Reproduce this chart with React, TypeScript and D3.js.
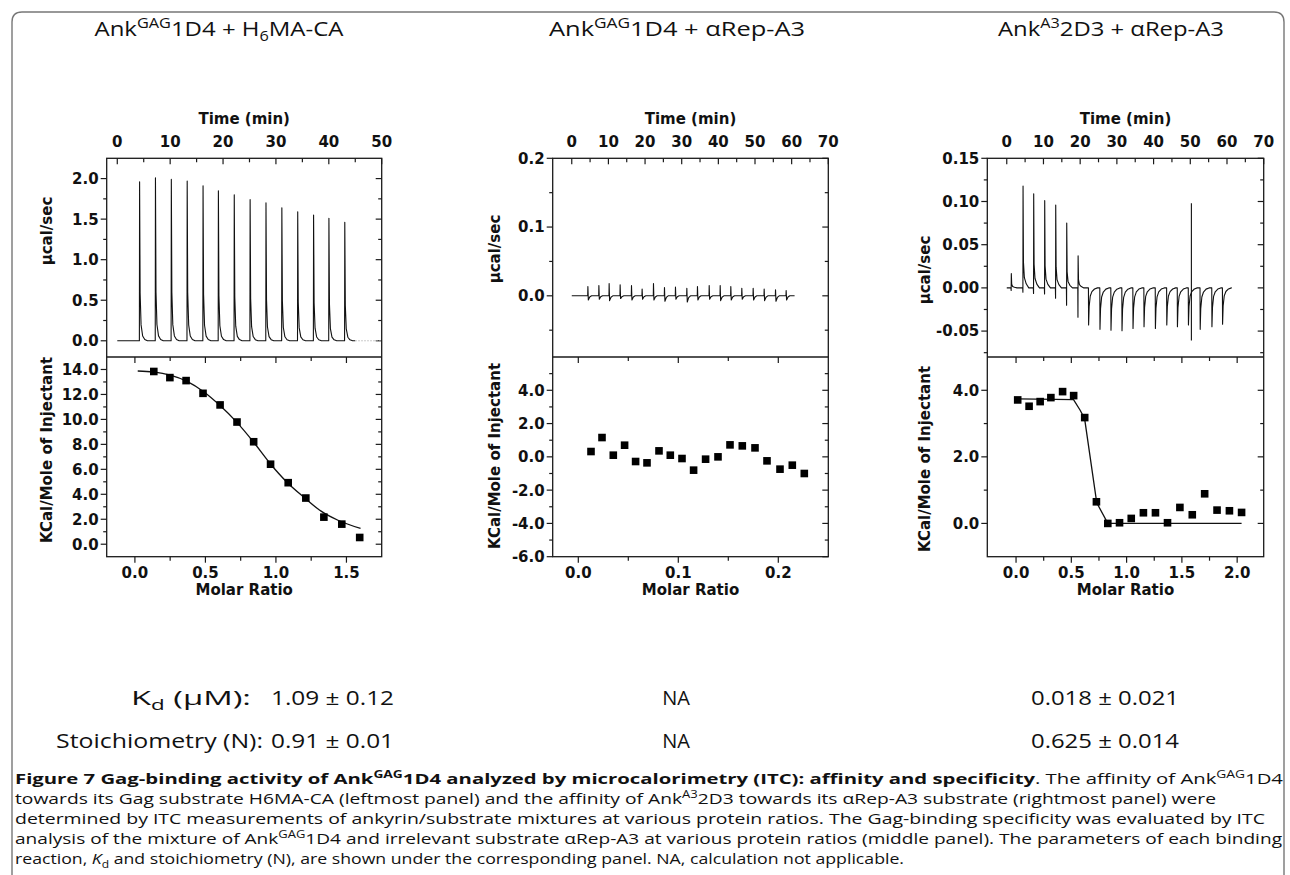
import React, { useEffect, useRef } from 'react'
import * as d3 from 'd3'

type Seg = { t: string; sup?: boolean; sub?: boolean; b?: boolean; i?: boolean }

// panel headings
const panelTitles: Seg[][] = [
    [{ t: 'Ank' }, { t: 'GAG', sup: true }, { t: '1D4 + H' }, { t: '6', sub: true }, { t: 'MA-CA' }],
    [{ t: 'Ank' }, { t: 'GAG', sup: true }, { t: '1D4 + αRep-A3' }],
    [{ t: 'Ank' }, { t: 'A3', sup: true }, { t: '2D3 + αRep-A3' }],
]

// ---- left panel: AnkGAG1D4 + H6MA-CA
const leftInjTime = [4.2, 7.2, 10.2, 13.2, 16.2, 19.1, 22.1, 25.1, 28.1, 31.1, 34.1, 37.1, 40.0, 43.0]
const leftPeak = [1.96, 2.01, 1.99, 1.97, 1.91, 1.85, 1.8, 1.74, 1.7, 1.64, 1.59, 1.55, 1.51, 1.46]
const leftRatio = [0.134, 0.248, 0.363, 0.483, 0.604, 0.724, 0.842, 0.962, 1.087, 1.212, 1.34, 1.467, 1.594]
const leftHeat = [13.84, 13.35, 13.11, 12.09, 11.16, 9.79, 8.21, 6.41, 4.93, 3.7, 2.17, 1.61, 0.54]
const leftFitRatio = [0.02, 0.13, 0.25, 0.37, 0.49, 0.6, 0.72, 0.84, 0.96, 1.08, 1.2, 1.32, 1.44, 1.6]
const leftFitHeat = [13.88, 13.8, 13.55, 13.05, 12.2, 11.15, 9.8, 8.2, 6.45, 4.95, 3.75, 2.65, 1.92, 1.26]

// ---- middle panel: AnkGAG1D4 + aRep-A3
const midInjTime = [4.4, 7.4, 10.2, 13.2, 16.3, 19.2, 22.3, 25.3, 28.3, 31.4, 34.3, 37.5, 40.5, 43.4, 46.4, 49.5, 52.5, 55.6, 58.5]
const midSpike = [0.0136, 0.015, 0.018, 0.016, 0.015, 0.0097, 0.018, 0.012, 0.0126, 0.011, 0.0136, 0.015, 0.015, 0.0136, 0.011, 0.011, 0.01, 0.0087, 0.0078]
const midDip = [-0.006, -0.005, -0.007, -0.004, -0.006, -0.005, -0.006, -0.008, -0.005, -0.009, -0.006, -0.005, -0.007, -0.006, -0.005, -0.006, -0.007, -0.008, -0.006]
const midRatio = [0.0127, 0.0237, 0.035, 0.0463, 0.0573, 0.0687, 0.0807, 0.092, 0.1037, 0.1153, 0.1273, 0.1397, 0.1517, 0.164, 0.1767, 0.1887, 0.2017, 0.214, 0.226]
const midHeat = [0.32, 1.16, 0.1, 0.7, -0.28, -0.36, 0.36, 0.1, -0.1, -0.8, -0.14, 0.0, 0.72, 0.66, 0.54, -0.24, -0.74, -0.5, -1.0]

// ---- right panel: AnkA32D3 + aRep-A3
const rightInjTime = [1.2, 4.4, 7.3, 10.3, 13.3, 16.3, 19.4, 22.3, 25.4, 28.4, 31.4, 34.4, 37.4, 40.5, 43.6, 46.5, 49.5, 52.7, 55.9, 58.8]
const rightPeak = [0.0165, 0.118, 0.109, 0.101, 0.096, 0.075, 0.037, -0.043, -0.048, -0.049, -0.0495, -0.047, -0.045, -0.047, -0.043, -0.045, -0.043, -0.048, -0.045, -0.042]
const rightDip = [-0.003, -0.005, -0.0065, -0.007, -0.012, -0.02, -0.034, 0, 0, 0, 0, 0, 0, 0, 0, 0, 0, 0, 0, 0]
const rightArtifact = { time: 50.3, up: 0.098, down: -0.061 }
const rightRatio = [0.015, 0.118, 0.218, 0.315, 0.421, 0.521, 0.621, 0.727, 0.83, 0.936, 1.042, 1.152, 1.261, 1.37, 1.482, 1.594, 1.706, 1.818, 1.93, 2.04]
const rightHeat = [3.71, 3.52, 3.66, 3.78, 3.96, 3.84, 3.18, 0.65, 0.0, 0.02, 0.15, 0.32, 0.32, 0.02, 0.48, 0.26, 0.89, 0.4, 0.38, 0.33]
const rightFitRatio = [0.015, 0.52, 0.58, 0.62, 0.73, 0.83, 2.04]
const rightFitHeat = [3.74, 3.72, 3.4, 3.15, 0.62, 0.0, 0.0]

// tick values
const leftTimeTicks = [0, 10, 20, 30, 40, 50]
const leftUpTicks = [0, 0.5, 1, 1.5, 2]
const leftLowTicks = [0, 2, 4, 6, 8, 10, 12, 14]
const leftRatioTicks = [0, 0.5, 1, 1.5]
const midTimeTicks = [0, 10, 20, 30, 40, 50, 60, 70]
const midUpTicks = [0, 0.1, 0.2]
const midLowTicks = [-6, -4, -2, 0, 2, 4]
const midRatioTicks = [0, 0.1, 0.2]
const rightTimeTicks = [0, 10, 20, 30, 40, 50, 60, 70]
const rightUpTicks = [-0.05, 0, 0.05, 0.1, 0.15]
const rightLowTicks = [0, 2, 4]
const rightRatioTicks = [0, 0.5, 1, 1.5, 2]

// fitted parameters under each panel
const kdLabel: Seg[] = [{ t: 'K' }, { t: 'd', sub: true }, { t: ' (μM):' }]
const nLabel: Seg[] = [{ t: 'Stoichiometry (N):' }]
const kdValues = ['1.09 ± 0.12', 'NA', '0.018 ± 0.021']
const nValues = ['0.91 ± 0.01', 'NA', '0.625 ± 0.014']

const captionLines: Seg[][] = [
    [{ t: 'Figure 7 Gag-binding activity of Ank', b: true }, { t: 'GAG', sup: true, b: true }, { t: '1D4 analyzed by microcalorimetry (ITC): affinity and specificity', b: true }, { t: '. The affinity of Ank' }, { t: 'GAG', sup: true }, { t: '1D4' }],
    [{ t: 'towards its Gag substrate H6MA-CA (leftmost panel) and the affinity of Ank' }, { t: 'A3', sup: true }, { t: '2D3 towards its αRep-A3 substrate (rightmost panel) were' }],
    [{ t: 'determined by ITC measurements of ankyrin/substrate mixtures at various protein ratios. The Gag-binding specificity was evaluated by ITC' }],
    [{ t: 'analysis of the mixture of Ank' }, { t: 'GAG', sup: true }, { t: '1D4 and irrelevant substrate αRep-A3 at various protein ratios (middle panel). The parameters of each binding' }],
    [{ t: 'reaction, ' }, { t: 'K', i: true }, { t: 'd', sub: true }, { t: ' and stoichiometry (N), are shown under the corresponding panel. NA, calculation not applicable.' }],
]

const W = 1290, H = 875
const INK = '#1a1a1a'
const FONT_AX = '"DejaVu Sans", sans-serif'
const FONT_TXT = '"Open Sans", sans-serif'
const yTop = 158.3, yMid = 357, yBot = 556.7

const fmt = (s: string) => (v: number) => d3.format(s)(v).replace('−', '-')

const rich = (g: any, segs: Seg[], x: number, y: number, size: number, anchor: string, len?: number) => {
    const text = g.append('text').attr('x', x).attr('y', y).attr('font-size', size)
        .attr('font-family', FONT_TXT).attr('text-anchor', anchor).attr('fill', '#111')
    if (len) text.attr('textLength', len).attr('lengthAdjust', 'spacingAndGlyphs')
    let shift = 0
    segs.forEach(s => {
        const target = s.sup ? -size * 0.38 : s.sub ? size * 0.25 : 0
        const ts = text.append('tspan').attr('dy', target - shift).text(s.t)
        shift = target
        if (s.sup || s.sub) ts.attr('font-size', size * 0.68)
        if (s.b) ts.attr('font-weight', 'bold')
        if (s.i) ts.attr('font-style', 'italic')
    })
}

// trace helpers: build a thermogram from the injection list
const leftTrace = () => {
    const pts: [number, number][] = [[0, 0]]
    leftInjTime.forEach((t, i) => {
        const h = leftPeak[i]
        pts.push([t - 0.02, 0], [t + 0.02, h], [t + 0.12, h * 0.3], [t + 0.3, h * 0.1], [t + 0.6, h * 0.03], [t + 1.0, h * 0.008], [t + 1.5, 0])
    })
    pts.push([45, 0])
    return pts
}
const midTrace = () => {
    const pts: [number, number][] = [[0, 0]]
    midInjTime.forEach((t, i) => {
        const h = midSpike[i], d = midDip[i]
        pts.push([t - 0.05, 0], [t, h], [t + 0.12, d], [t + 0.5, d * 0.3], [t + 1.0, 0])
    })
    pts.push([60.8, 0])
    return pts
}
const rightTrace = () => {
    const pts: [number, number][] = [[0, 0]]
    rightInjTime.forEach((t, i) => {
        const h = rightPeak[i], d = rightDip[i]
        if (h > 0) pts.push([t - 0.05, 0], [t, d], [t + 0.04, h], [t + 0.15, h * 0.25], [t + 0.4, h * 0.1], [t + 0.9, h * 0.04], [t + 1.6, 0])
        else pts.push([t - 0.05, 0], [t, h], [t + 0.15, h * 0.5], [t + 0.45, h * 0.22], [t + 0.9, h * 0.1], [t + 1.6, h * 0.03], [t + 2.4, 0])
    })
    pts.push([61.3, 0])
    return pts
}

const panels = [
    {
        x0: 106.7, x1: 381.7, ylabX: 47, ucalY: 231, kcalY: 450,
        tDomain: [-2, 50], tMajor: leftTimeTicks, tMinor: [5, 15, 25, 35, 45],
        uDomain: [-0.2, 2.25], uMajor: leftUpTicks, uMinor: [0.25, 0.75, 1.25, 1.75], uFmt: fmt('.1f'),
        xDomain: [-0.2, 1.75], xMajor: leftRatioTicks, xMinor: [0.25, 0.75, 1.25], xFmt: fmt('.1f'),
        lDomain: [-1, 15], lMajor: leftLowTicks, lMinor: [1, 3, 5, 7, 9, 11, 13], lFmt: fmt('.1f'),
        trace: leftTrace(), tail: [[45, 0], [50, 0]], ratio: leftRatio, heat: leftHeat,
        fit: leftFitRatio.map((r, i) => [r, leftFitHeat[i]]), curve: d3.curveMonotoneX,
    },
    {
        x0: 552.7, x1: 828.3, ylabX: 495, ucalY: 249, kcalY: 456,
        tDomain: [-5.2, 70], tMajor: midTimeTicks, tMinor: [5, 15, 25, 35, 45, 55, 65],
        uDomain: [-0.089, 0.2], uMajor: midUpTicks, uMinor: [-0.05, 0.05, 0.15], uFmt: fmt('.1f'),
        xDomain: [-0.0256, 0.25], xMajor: midRatioTicks, xMinor: [0.05, 0.15], xFmt: fmt('.1f'),
        lDomain: [-6, 6], lMajor: midLowTicks, lMinor: [-5, -3, -1, 1, 3, 5], lFmt: fmt('.1f'),
        trace: midTrace(), tail: null, ratio: midRatio, heat: midHeat, fit: null, curve: d3.curveLinear,
    },
    {
        x0: 987.3, x1: 1263.7, ylabX: 925, ucalY: 270, kcalY: 459,
        tDomain: [-5.3, 70], tMajor: rightTimeTicks, tMinor: [5, 15, 25, 35, 45, 55, 65],
        uDomain: [-0.08, 0.15], uMajor: rightUpTicks, uMinor: [-0.075, -0.025, 0.025, 0.075, 0.125], uFmt: fmt('.2f'),
        xDomain: [-0.26, 2.24], xMajor: rightRatioTicks, xMinor: [0.25, 0.75, 1.25, 1.75], xFmt: fmt('.1f'),
        lDomain: [-1, 5], lMajor: rightLowTicks, lMinor: [1, 3], lFmt: fmt('.1f'),
        trace: rightTrace(), tail: null, ratio: rightRatio, heat: rightHeat,
        fit: rightFitRatio.map((r, i) => [r, rightFitHeat[i]]), curve: d3.curveLinear,
    },
]

const App = () => {
    const ref = useRef<SVGSVGElement>(null)

    useEffect(() => {
        const svg = d3.select(ref.current)
        svg.selectAll('*').remove()

        // figure box with rounded top corners
        svg.append('path')
            .attr('d', 'M12,880 L12,22 Q12,12 22,12 L1274,12 Q1284,12 1284,22 L1284,880')
            .attr('fill', 'none').attr('stroke', '#777').attr('stroke-width', 1.4)

        const titleSpan = [[94.5, 249], [549, 256], [998, 226]]
        panelTitles.forEach((segs, i) => rich(svg, segs, titleSpan[i][0], 36, 20, 'start', titleSpan[i][1]))

        panels.forEach(p => {
            const g = svg.append('g')
            const t = d3.scaleLinear().domain(p.tDomain).range([p.x0, p.x1])
            const u = d3.scaleLinear().domain(p.uDomain).range([yMid, yTop])
            const x = d3.scaleLinear().domain(p.xDomain).range([p.x0, p.x1])
            const y = d3.scaleLinear().domain(p.lDomain).range([yBot, yMid])

            const ax = g.append('g').attr('stroke', INK).attr('stroke-width', 1.2)
            const vt = (xp: number, sc: any, vals: number[], len: number) =>
                vals.forEach(v => ax.append('line').attr('x1', xp).attr('x2', xp + len).attr('y1', sc(v)).attr('y2', sc(v)))
            const ht = (yp: number, sc: any, vals: number[], len: number) =>
                vals.forEach(v => ax.append('line').attr('y1', yp).attr('y2', yp + len).attr('x1', sc(v)).attr('x2', sc(v)))

            // upper thermogram axes
            vt(p.x0, u, p.uMajor, -6); vt(p.x0, u, p.uMinor, -3.5)
            vt(p.x1, u, p.uMajor, -6); vt(p.x1, u, p.uMinor, -3.5)
            ht(yTop, t, p.tMajor, 6); ht(yTop, t, p.tMinor, 4)
            // lower isotherm axes
            vt(p.x0, y, p.lMajor, -6); vt(p.x0, y, p.lMinor, -3.5)
            vt(p.x1, y, p.lMajor, -6); vt(p.x1, y, p.lMinor, -3.5)
            ht(yMid, x, p.xMajor, 6); ht(yMid, x, p.xMinor, 4)
            ht(yBot, x, p.xMajor, 6); ht(yBot, x, p.xMinor, 4)

            g.append('rect').attr('x', p.x0).attr('y', yTop).attr('width', p.x1 - p.x0).attr('height', yBot - yTop)
                .attr('fill', 'none').attr('stroke', INK).attr('stroke-width', 1.3)
            g.append('line').attr('x1', p.x0).attr('x2', p.x1).attr('y1', yMid).attr('y2', yMid)
                .attr('stroke', INK).attr('stroke-width', 1.3)

            const lab = g.append('g').attr('font-family', FONT_AX).attr('font-weight', 'bold')
                .attr('font-size', 15).attr('fill', '#111')
            p.uMajor.forEach(v => lab.append('text').attr('x', p.x0 - 8).attr('y', u(v) + 5.4).attr('text-anchor', 'end').text(p.uFmt(v)))
            p.lMajor.forEach(v => lab.append('text').attr('x', p.x0 - 8).attr('y', y(v) + 5.4).attr('text-anchor', 'end').text(p.lFmt(v)))
            p.tMajor.forEach(v => lab.append('text').attr('x', t(v)).attr('y', yTop - 11.2).attr('text-anchor', 'middle').text(v))
            p.xMajor.forEach(v => lab.append('text').attr('x', x(v)).attr('y', yBot + 21.7).attr('text-anchor', 'middle').text(p.xFmt(v)))
            const cx = (p.x0 + p.x1) / 2
            lab.append('text').attr('x', cx).attr('y', yTop - 34).attr('text-anchor', 'middle').text('Time (min)')
            lab.append('text').attr('x', cx).attr('y', yBot + 38).attr('text-anchor', 'middle').text('Molar Ratio')
            lab.append('text').attr('transform', `translate(${p.ylabX},${p.ucalY}) rotate(-90)`)
                .attr('text-anchor', 'middle').attr('dy', '0.36em').text('μcal/sec')
            lab.append('text').attr('transform', `translate(${p.ylabX},${p.kcalY}) rotate(-90)`)
                .attr('text-anchor', 'middle').attr('dy', '0.36em').text('KCal/Mole of Injectant')

            // raw heat trace
            const line = d3.line<number[]>().x(d => t(d[0])).y(d => u(d[1]))
            g.append('path').attr('d', line(p.trace)).attr('fill', 'none').attr('stroke', '#111')
                .attr('stroke-width', 1.1).attr('stroke-linejoin', 'round')
            if (p.tail) g.append('path').attr('d', line(p.tail as number[][])).attr('fill', 'none')
                .attr('stroke', '#bbb').attr('stroke-width', 1).attr('stroke-dasharray', '1.5,1.5')
            if (p === panels[2]) {
                const a = rightArtifact
                g.append('line').attr('x1', t(a.time)).attr('x2', t(a.time)).attr('y1', u(a.up)).attr('y2', u(a.down))
                    .attr('stroke', '#111').attr('stroke-width', 1.1)
            }

            // integrated heats and fit
            if (p.fit) {
                const fl = d3.line<number[]>().x(d => x(d[0])).y(d => y(d[1])).curve(p.curve)
                g.append('path').attr('d', fl(p.fit as number[][])).attr('fill', 'none').attr('stroke', '#111').attr('stroke-width', 1.3)
            }
            const s = 7.6
            g.selectAll('rect.pt').data(p.ratio).join('rect').attr('class', 'pt')
                .attr('x', d => x(d) - s / 2).attr('y', (d, i) => y(p.heat[i]) - s / 2)
                .attr('width', s).attr('height', s).attr('fill', '#000')
        })

        // fitted parameters
        rich(svg, kdLabel, 131, 705, 20, 'start', 120)
        rich(svg, nLabel, 56, 748, 20, 'start', 207)
        const valX = [[271, 'start', 123], [676, 'middle', 0], [1105, 'middle', 148]]
        kdValues.forEach((v, i) => rich(svg, [{ t: v }], valX[i][0] as number, 705, 20, valX[i][1] as string, (valX[i][2] as number) || undefined))
        nValues.forEach((v, i) => rich(svg, [{ t: v }], valX[i][0] as number, 748, 20, valX[i][1] as string, (valX[i][2] as number) || undefined))

        // caption
        const capLen = [1268, 1201, 1250, 1267, 889]
        captionLines.forEach((segs, i) => rich(svg, segs, 15, 784 + i * 20, 15, 'start', capLen[i]))
    }, [])

    return (
        <svg ref={ref} width={W} height={H} style={{ position: 'absolute', left: 0, top: 0, background: '#fff' }} />
    )
}

export default App
